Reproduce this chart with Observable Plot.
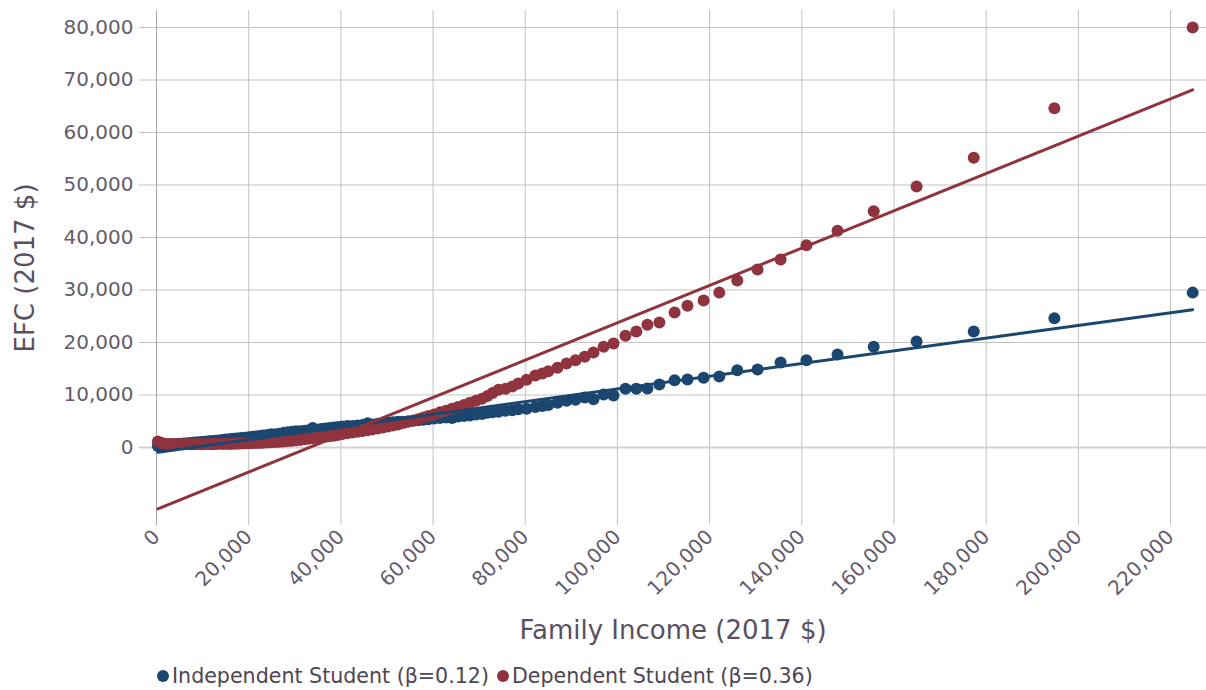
<!DOCTYPE html>
<html>
<head>
<meta charset="utf-8">
<script src="https://cdn.jsdelivr.net/npm/d3@7"></script>
<script src="https://cdn.jsdelivr.net/npm/@observablehq/plot@0.6"></script>
<style>
  html, body { margin: 0; padding: 0; background: #fff; }
  #chart svg { display: block; }
  #legend {
    display: flex; align-items: center; gap: 8px;
    padding-left: 157px; margin-top: 9px;
    font: 20.6px "DejaVu Sans", sans-serif; color: #4e4553;
  }
  #legend .item { display: flex; align-items: center; gap: 3px; }
  #legend .swatch { width: 12px; height: 12px; border-radius: 50%; display: inline-block; }
</style>
</head>
<body>
<div id="chart"></div>
<div id="legend"></div>
<script>
// Family income (2017 $) at each point; both student groups share these incomes
const incomes = [
  300, 1100, 1900, 2700, 3500, 4300, 5100, 5900, 6700, 7400, 8200, 9000, 9800, 10500,
  11300, 12000, 12800, 13500, 14300, 15000, 15800, 16500, 17300, 18000, 18800, 19600,
  20400, 21300, 22200, 23100, 24000, 24900, 25800, 26700, 27600, 28500, 29400, 30300,
  31200, 32100, 33000, 33900, 34800, 35700, 36600, 37500, 38400, 39300,
  40300, 41400, 42500, 43600, 44700, 45800, 46900, 48000, 49100, 50200, 51300, 52400,
  53500, 54600, 55700, 56800, 57900, 59000,
  60200, 61500, 62800, 64100, 65400, 66700, 68000, 69300, 70600, 71800, 72900, 74200,
  75700, 77200, 78500, 80300, 82200, 83700, 85000, 87000, 88950, 90900, 92900,
  94800, 97000, 99150, 101750, 104100, 106500, 109100, 112400, 115200, 118700, 122100,
  126000, 130400, 135400, 141000, 147750, 155600, 164900, 177300, 194800, 224800
];

// Expected family contribution (2017 $), independent students
const efcIndependent = [
  300, 350, 450, 500, 600, 650, 700, 750, 800, 850, 950, 1000, 1050, 1100,
  1200, 1250, 1300, 1350, 1450, 1500, 1550, 1650, 1700, 1750, 1850, 1900,
  2000, 2100, 2200, 2300, 2400, 2500, 2500, 2600, 2800, 2900, 3000, 3100,
  3100, 3200, 3300, 3700, 3400, 3500, 3600, 3700, 3800, 3900,
  4000, 4100, 4100, 4200, 4300, 4600, 4400, 4500, 4600, 4700, 4800, 4900,
  4900, 5000, 5100, 5200, 5300, 5400,
  5500, 5600, 5700, 5600, 5900, 6000, 6100, 6300, 6400, 6600, 6700, 6800,
  7000, 7100, 7300, 7400, 7700, 7900, 8100, 8500, 8900, 9100, 9500,
  9200, 10100, 9900, 11200, 11200, 11250, 12000, 12800, 12950, 13300, 13500,
  14700, 14850, 16200, 16600, 17700, 19200, 20200, 22100, 24600, 29500
];

// Expected family contribution (2017 $), dependent students
const efcDependent = [
  1150, 850, 700, 650, 600, 650, 600, 600, 650, 600, 600, 650, 600, 650,
  650, 600, 650, 700, 650, 700, 650, 700, 700, 750, 750, 800,
  800, 850, 850, 900, 950, 1000, 1050, 1100, 1150, 1250, 1300, 1400,
  1450, 1550, 1650, 1750, 1850, 1950, 2050, 2150, 2250, 2400,
  2550, 2700, 2850, 3000, 3150, 3300, 3450, 3600, 3800, 4000, 4200, 4400,
  4650, 4900, 5150, 5400, 5700, 6000,
  6300, 6700, 7000, 7400, 7700, 8100, 8500, 8900, 9300, 9800, 10400, 11000,
  11200, 11600, 12200, 12900, 13700, 14100, 14500, 15200, 16000, 16600, 17300,
  18100, 19200, 19800, 21300, 22100, 23400, 23800, 25700, 27000, 28000, 29500,
  31800, 33900, 35800, 38500, 41300, 45000, 49700, 55200, 64600, 80000
];

// Linear fits, EFC = intercept + beta * income
const seriesNames = ["Independent Student", "Dependent Student"];
const fitIntercepts = [-950, -11800];
const fitBetas = [0.121, 0.3556];
const seriesColors = ["#1b466f", "#8f343e"];

const xTicks = [0, 20000, 40000, 60000, 80000, 100000, 120000, 140000, 160000, 180000, 200000, 220000];
const yTicks = [0, 10000, 20000, 30000, 40000, 50000, 60000, 70000, 80000];

// Tidy rows for the scatter and the two fitted lines
const efcBySeries = [efcIndependent, efcDependent];
const points = seriesNames.flatMap((s, i) =>
  incomes.map((x, j) => ({series: s, income: x, efc: efcBySeries[i][j]})));
const [xMin, xMax] = d3.extent(incomes);
const fitRows = seriesNames.flatMap((s, i) =>
  [xMin, xMax].map(x => ({series: s, income: x, efc: fitIntercepts[i] + fitBetas[i] * x})));

const W = 1206, H = 655;
const tickColor = "#655c6a";
const titleColor = "#5a5060";

const chart = Plot.plot({
  width: W,
  height: H,
  marginLeft: 139,
  marginRight: 0,
  marginTop: 10,
  marginBottom: H - 525,
  x: {domain: [-3690, 227800]},
  y: {domain: [-14860, 83240]},
  color: {domain: seriesNames, range: seriesColors},
  style: {fontFamily: "DejaVu Sans, sans-serif", background: "#fff", overflow: "visible"},
  marks: [
    Plot.ruleX(xTicks.filter(d => d !== 0), {stroke: "#c2c2c2", strokeWidth: 1}),
    Plot.ruleY(yTicks.filter(d => d !== 0), {stroke: "#c2c2c2", strokeWidth: 1}),
    Plot.ruleY([0], {stroke: "#d2d2d2", strokeWidth: 2}),
    Plot.ruleX([0], {stroke: "#a8a8a8", strokeWidth: 1}),
    Plot.dot(points.filter(d => d.series === seriesNames[0]), {x: "income", y: "efc", r: 6, fill: "series", stroke: "none"}),
    Plot.dot(points.filter(d => d.series === seriesNames[1]), {x: "income", y: "efc", r: 6, fill: "series", stroke: "none"}),
    Plot.line(fitRows, {x: "income", y: "efc", z: "series", stroke: "series", strokeWidth: 3}),
    Plot.axisX(xTicks, {
      tickSize: 0, tickPadding: 8, tickRotate: -45, textAnchor: "end",
      fontSize: 20, fill: tickColor, tickFormat: d3.format(","), label: null
    }),
    Plot.axisY(yTicks, {
      tickSize: 0, tickPadding: 6, fontSize: 20, fill: tickColor,
      tickFormat: d3.format(","), label: null
    }),
    Plot.text(["Family Income (2017 $)"], {
      frameAnchor: "bottom", dy: 113, fontSize: 26, fill: titleColor
    }),
    Plot.text(["EFC (2017 $)"], {
      frameAnchor: "left", rotate: -90, textAnchor: "middle", dx: -114, fontSize: 26, fill: titleColor
    })
  ]
});
document.getElementById("chart").appendChild(chart);

// Legend under the chart, one entry per series with its slope
const legend = d3.select("#legend");
seriesNames.forEach((s, i) => {
  const item = legend.append("div").attr("class", "item");
  item.append("span").attr("class", "swatch").style("background", seriesColors[i]);
  item.append("span").text(`${s} (β=${fitBetas[i].toFixed(2)})`);
});
</script>
</body>
</html>
